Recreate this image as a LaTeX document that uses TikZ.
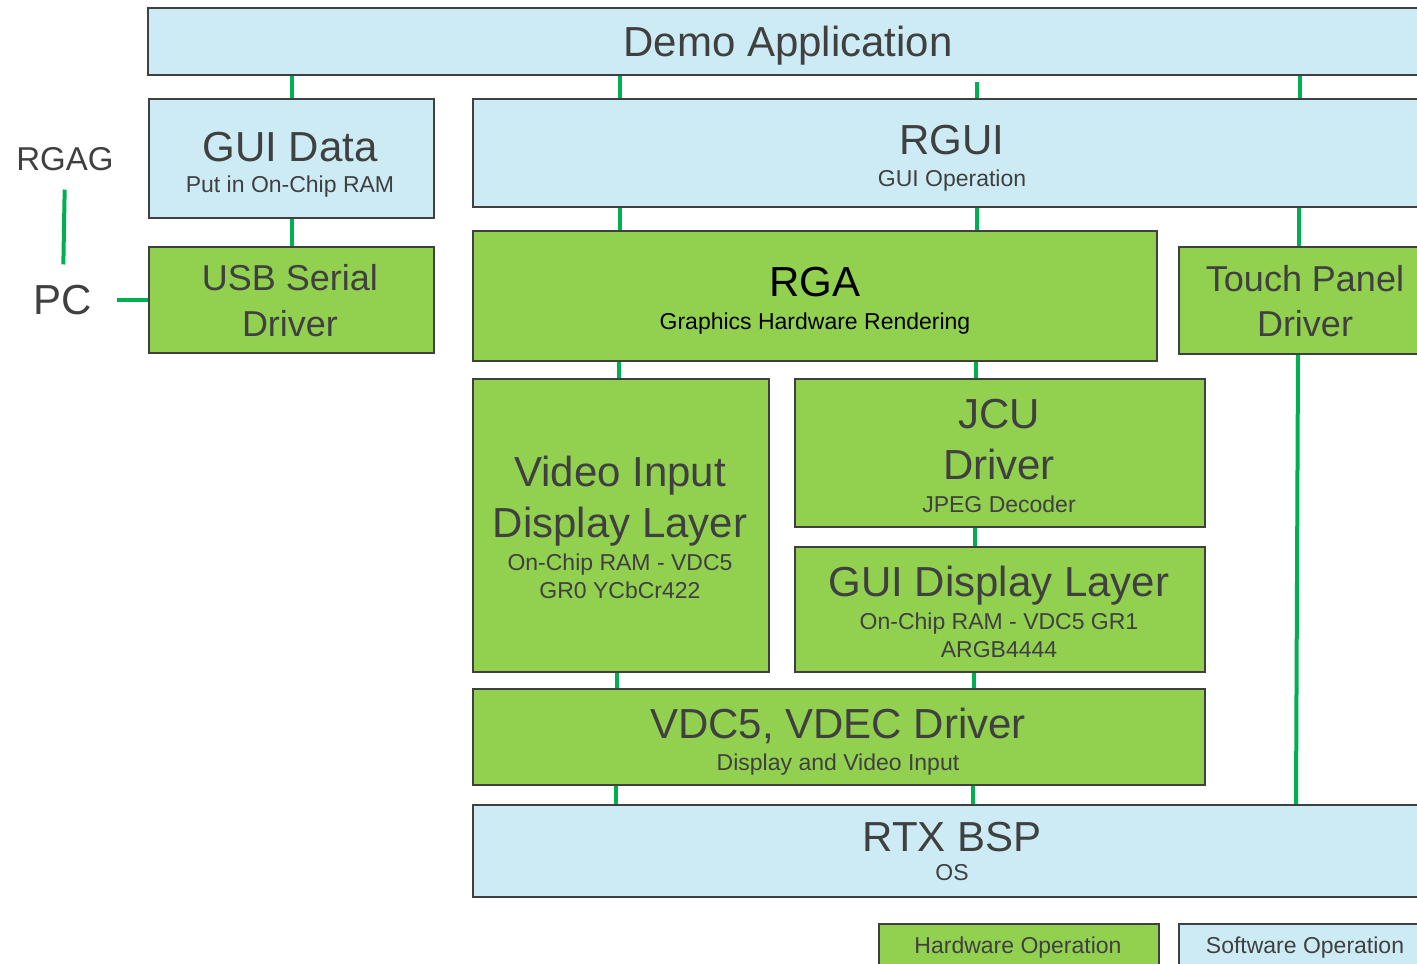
\documentclass[tikz,border=0pt]{standalone}
\usepackage{fontspec}
\setmainfont{Liberation Sans}
\usetikzlibrary{backgrounds}
\definecolor{boxblue}{HTML}{CDEBF5}
\definecolor{boxgreen}{HTML}{92D050}
\definecolor{linegreen}{HTML}{00B050}
\definecolor{edgegray}{HTML}{404040}
\definecolor{txtgray}{HTML}{404040}
\begin{document}
\begin{tikzpicture}[x=1pt,y=-1pt,
  box/.style={draw=edgegray, line width=2pt, rectangle, inner sep=0pt, anchor=north west},
  swbox/.style={box, fill=boxblue},
  hwbox/.style={box, fill=boxgreen},
  conn/.style={draw=linegreen, line width=4pt},
  lbl/.style={text=txtgray, anchor=base, inner sep=0pt},
  big/.style={lbl, font=\fontsize{42}{50}\selectfont},
  mid/.style={lbl, font=\fontsize{36}{44}\selectfont},
  small/.style={lbl, font=\fontsize{23}{28}\selectfont}]
\useasboundingbox (0,0) rectangle (1417,964);
\clip (0,0) rectangle (1417,964);

% boxes
\node[swbox, minimum width=1300pt, minimum height=67pt] (demo) at (147,7) {};
\node[swbox, minimum width=285pt, minimum height=119pt] (gd) at (148,98) {};
\node[swbox, minimum width=980pt, minimum height=108pt] (rgui) at (472,98) {};
\node[hwbox, minimum width=285pt, minimum height=106pt] (usb) at (148,246) {};
\node[hwbox, minimum width=684pt, minimum height=130pt] (rga) at (472,230) {};
\node[hwbox, minimum width=280pt, minimum height=107pt] (touch) at (1178,246) {};
\node[hwbox, minimum width=296pt, minimum height=293pt] (video) at (472,378) {};
\node[hwbox, minimum width=410pt, minimum height=148pt] (jcu) at (794,378) {};
\node[hwbox, minimum width=410pt, minimum height=125pt] (gdl) at (794,546) {};
\node[hwbox, minimum width=732pt, minimum height=96pt] (vdc) at (472,688) {};
\node[swbox, minimum width=980pt, minimum height=92pt] (rtx) at (472,804) {};
\node[hwbox, minimum width=280pt, minimum height=60pt] (hwleg) at (878,923) {};
\node[swbox, minimum width=280pt, minimum height=60pt] (swleg) at (1178,923) {};

% texts
\node[big] (demo-t) at (788,56) {Demo Application};
\node[big] (gd-t) at (290,161) {GUI Data};
\node[small] (gd-s) at (290,192) {Put in On-Chip RAM};
\node[big] (rgui-t) at (952,154) {RGUI};
\node[small] (rgui-s) at (952,186) {GUI Operation};
\node[mid] (usb-t1) at (290,290) {USB Serial};
\node[mid] (usb-t2) at (290,336) {Driver};
\node[big, text=black] (rga-t) at (815,296) {RGA};
\node[small, text=black] (rga-s) at (815,329) {Graphics Hardware Rendering};
\node[mid] (touch-t1) at (1305,291) {Touch Panel};
\node[mid] (touch-t2) at (1305,336) {Driver};
\node[big] (video-t1) at (620,486) {Video Input};
\node[big] (video-t2) at (620,537) {Display Layer};
\node[small] (video-s1) at (620,570) {On-Chip RAM - VDC5};
\node[small] (video-s2) at (620,598) {GR0 YCbCr422};
\node[big] (jcu-t1) at (999,428) {JCU};
\node[big] (jcu-t2) at (999,479) {Driver};
\node[small] (jcu-s) at (999,512) {JPEG Decoder};
\node[big] (gdl-t) at (999,596) {GUI Display Layer};
\node[small] (gdl-s1) at (999,629) {On-Chip RAM - VDC5 GR1};
\node[small] (gdl-s2) at (999,657) {ARGB4444};
\node[big] (vdc-t) at (838,738) {VDC5, VDEC Driver};
\node[small] (vdc-s) at (838,770) {Display and Video Input};
\node[big] (rtx-t) at (952,851) {RTX BSP};
\node[small] (rtx-s) at (952,880) {OS};
\node[small] (hwleg-t) at (1018,953) {Hardware Operation};
\node[small] (swleg-t) at (1305,953) {Software Operation};
\node[lbl, font=\fontsize{33}{40}\selectfont] (rgag) at (65,170) {RGAG};
\node[big] (pc) at (63,314) {PC};

% connectors
\begin{pgfonlayer}{background}
\draw[conn] (gd.north) -- (gd.north |- demo.south);
\draw[conn] ([xshift=148pt]rgui.north west) -- ([xshift=148pt]rgui.north west |- demo.south);
\draw[conn] ([xshift=505pt]rgui.north west) -- ([xshift=505pt,yshift=-6pt]rgui.north west |- demo.south);
\draw[conn] ([xshift=828pt]rgui.north west) -- ([xshift=828pt]rgui.north west |- demo.south);
\draw[conn] (gd.south) -- (usb.north);
\draw[conn] ([xshift=148pt]rga.north west) -- ([xshift=148pt]rga.north west |- rgui.south);
\draw[conn] ([xshift=505pt]rga.north west) -- ([xshift=505pt]rga.north west |- rgui.south);
\draw[conn] ([xshift=121pt]touch.north west) -- ([xshift=121pt]touch.north west |- rgui.south);
\draw[conn] ([xshift=147pt]video.north west) -- ([xshift=147pt]video.north west |- rga.south);
\draw[conn] ([xshift=182pt]jcu.north west) -- ([xshift=182pt]jcu.north west |- rga.south);
\draw[conn] ([xshift=181pt]gdl.north west) -- ([xshift=181pt]gdl.north west |- jcu.south);
\draw[conn] ([xshift=145pt]vdc.north west) -- ([xshift=145pt]vdc.north west |- video.south);
\draw[conn] ([xshift=502pt]vdc.north west) -- ([xshift=502pt]vdc.north west |- gdl.south);
\draw[conn] ([xshift=144pt]rtx.north west) -- ([xshift=144pt]rtx.north west |- vdc.south);
\draw[conn] ([xshift=501pt]rtx.north west) -- ([xshift=501pt]rtx.north west |- vdc.south);
\draw[conn] ([xshift=120pt]touch.south west) -- ([xshift=118pt]touch.south west |- rtx.north);
\draw[conn, shorten <=19pt, shorten >=20pt] (rgag.south) -- (pc.north);
\draw[conn, shorten <=25pt] (pc.east) -- (usb.west |- pc.east);
\end{pgfonlayer}
\end{tikzpicture}
\end{document}
